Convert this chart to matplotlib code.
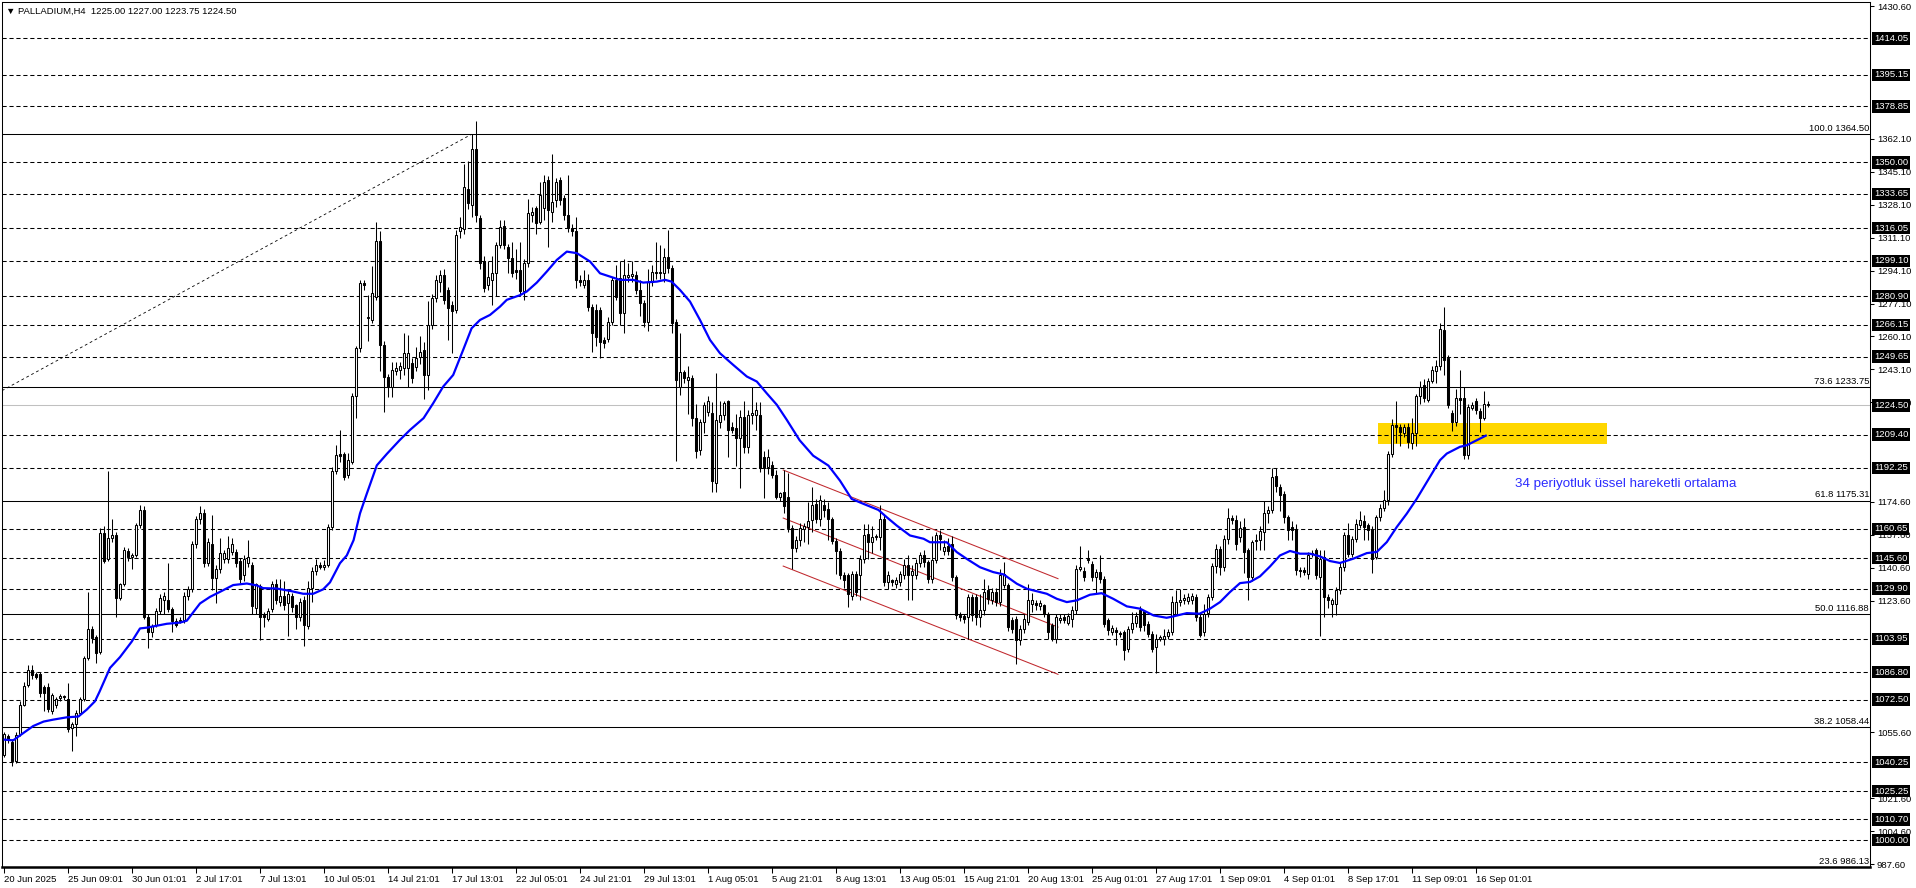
import numpy as np
import matplotlib
matplotlib.use("Agg")
import matplotlib.pyplot as plt
from matplotlib.patches import Rectangle

plt.rcParams['lines.scale_dashes'] = False
plt.rcParams['font.family'] = ['Liberation Sans', 'DejaVu Sans']

# --- H4 candles (bar 0 = 20 Jun 2025) ---
opens = [
    1044.0, 1053.9, 1050.9, 1041.0, 1054.9, 1069.7, 1080.0, 1087.6, 1085.6, 1085.6,
    1079.2, 1079.2, 1066.8, 1069.7, 1073.5, 1074.3, 1072.7, 1057.9, 1060.0, 1065.8,
    1072.7, 1093.9, 1109.0, 1105.0, 1097.0, 1158.8, 1145.0, 1155.9, 1157.8, 1125.2,
    1132.1, 1149.3, 1146.0, 1147.0, 1162.8, 1170.7, 1115.3, 1107.4, 1111.3, 1118.3,
    1124.2, 1124.2, 1119.2, 1113.3, 1113.0, 1113.7, 1126.2, 1129.5, 1152.9, 1165.8,
    1168.7, 1143.0, 1152.9, 1135.1, 1140.0, 1145.0, 1145.0, 1149.0, 1149.0, 1144.0,
    1137.0, 1143.0, 1142.0, 1120.0, 1131.0, 1116.3, 1114.3, 1119.2, 1132.1, 1123.2,
    1126.2, 1122.2, 1126.2, 1121.2, 1115.3, 1124.2, 1110.3, 1130.1, 1139.0, 1142.0,
    1141.0, 1142.0, 1161.8, 1190.5, 1199.4, 1199.4, 1188.5, 1195.5, 1229.1, 1253.9,
    1287.5, 1269.5, 1268.7, 1280.6, 1309.3, 1255.9, 1239.0, 1234.1, 1242.0, 1243.0,
    1243.6, 1243.7, 1246.3, 1244.5, 1249.7, 1253.2, 1240.2, 1266.1, 1279.8, 1288.4,
    1291.9, 1284.0, 1276.4, 1273.8, 1314.6, 1315.5, 1336.0, 1328.0, 1356.8, 1321.1,
    1299.3, 1286.7, 1289.3, 1292.7, 1307.4, 1317.2, 1306.5, 1300.5, 1294.4, 1294.4,
    1283.3, 1297.9, 1322.9, 1326.3, 1319.4, 1326.3, 1340.9, 1324.6, 1330.6, 1340.9,
    1331.5, 1322.9, 1316.0, 1314.3, 1289.3, 1286.7, 1289.3, 1275.5, 1273.8, 1273.8,
    1258.3, 1258.7, 1267.3, 1289.3, 1290.2, 1272.1, 1291.0, 1291.5, 1291.9, 1284.1,
    1277.2, 1267.8, 1288.4, 1293.4, 1292.7, 1292.7, 1301.3, 1295.3, 1267.8, 1234.2,
    1241.9, 1237.7, 1238.5, 1217.9, 1201.5, 1216.1, 1221.3, 1220.4, 1184.4, 1216.1,
    1219.6, 1226.5, 1213.5, 1212.7, 1207.6, 1218.7, 1203.2, 1219.6, 1219.6, 1219.6,
    1198.0, 1192.9, 1193.8, 1188.6, 1177.4, 1180.0, 1177.4, 1161.1, 1150.9, 1155.0,
    1160.7, 1161.6, 1165.4, 1173.6, 1165.9, 1173.3, 1171.0, 1165.9, 1154.7, 1149.5,
    1137.1, 1136.7, 1126.3, 1137.5, 1136.7, 1145.2, 1158.1, 1153.8, 1156.4, 1156.4,
    1165.9, 1133.2, 1134.1, 1132.3, 1133.2, 1136.7, 1141.8, 1136.7, 1136.7, 1143.0,
    1147.0, 1143.5, 1135.0, 1144.4, 1157.3, 1149.2, 1152.1, 1153.0, 1135.8, 1116.3,
    1115.5, 1115.2, 1125.5, 1125.5, 1115.2, 1118.6, 1128.9, 1123.8, 1128.0, 1122.9,
    1131.5, 1131.5, 1113.4, 1114.3, 1103.1, 1109.2, 1112.6, 1122.0, 1122.3, 1121.0,
    1121.2, 1116.9, 1110.9, 1104.0, 1113.5, 1115.2, 1112.3, 1114.3, 1118.6, 1140.1,
    1139.2, 1145.2, 1142.7, 1135.8, 1138.7, 1135.0, 1113.4, 1107.4, 1108.6, 1107.1,
    1107.4, 1098.8, 1109.2, 1112.0, 1118.6, 1118.3, 1111.7, 1106.6, 1099.7, 1104.0,
    1104.0, 1105.2, 1107.4, 1117.0, 1122.9, 1123.8, 1123.4, 1123.8, 1125.5, 1115.2,
    1107.4, 1117.2, 1125.5, 1141.3, 1150.5, 1141.0, 1155.7, 1166.4, 1165.1, 1156.5,
    1161.7, 1149.6, 1135.8, 1154.3, 1154.8, 1159.1, 1169.0, 1170.7, 1187.9, 1182.4,
    1178.9, 1166.9, 1161.7, 1160.8, 1139.6, 1139.6, 1137.6, 1148.3, 1149.6, 1135.8,
    1146.2, 1125.5, 1122.0, 1122.0, 1128.9, 1141.0, 1157.4, 1147.9, 1155.7, 1162.6,
    1164.6, 1162.5, 1160.8, 1146.2, 1166.9, 1171.7, 1175.8, 1199.3, 1214.3, 1213.4,
    1210.3, 1213.4, 1205.2, 1210.0, 1229.3, 1235.0, 1227.2, 1237.2, 1242.3, 1244.8,
    1263.4, 1249.1, 1220.3, 1216.0, 1228.1, 1228.1, 1198.8, 1223.2, 1226.8, 1221.7,
    1218.2, 1225.0,
]
highs = [
    1056.0, 1055.0, 1052.0, 1056.0, 1071.7, 1081.6, 1090.5, 1090.5, 1087.0, 1087.0,
    1080.0, 1081.0, 1076.0, 1074.0, 1075.5, 1075.0, 1081.0, 1061.0, 1067.0, 1074.0,
    1095.0, 1128.2, 1110.5, 1106.0, 1161.0, 1162.0, 1190.5, 1165.8, 1159.0, 1133.0,
    1151.5, 1151.0, 1148.0, 1164.0, 1173.0, 1172.5, 1117.0, 1111.5, 1120.0, 1127.0,
    1128.0, 1143.0, 1120.5, 1114.5, 1115.0, 1128.0, 1131.0, 1154.5, 1167.2, 1172.3,
    1171.0, 1156.0, 1167.7, 1142.0, 1155.9, 1150.0, 1157.0, 1156.0, 1150.5, 1145.5,
    1147.0, 1155.0, 1143.5, 1133.0, 1132.0, 1118.0, 1120.0, 1134.0, 1135.0, 1135.0,
    1134.0, 1129.0, 1127.5, 1122.0, 1125.0, 1126.0, 1134.0, 1141.0, 1145.0, 1143.5,
    1144.5, 1163.0, 1192.5, 1204.0, 1212.0, 1200.5, 1200.0, 1231.0, 1255.0, 1289.0,
    1289.0, 1281.6, 1296.5, 1319.2, 1314.3, 1257.8, 1240.5, 1246.8, 1246.8, 1247.0,
    1262.0, 1260.9, 1249.0, 1254.5, 1260.3, 1257.1, 1278.2, 1282.0, 1292.0, 1294.5,
    1295.0, 1285.5, 1278.5, 1315.0, 1322.0, 1349.0, 1350.5, 1364.5, 1371.2, 1323.0,
    1301.5, 1299.3, 1301.5, 1309.0, 1320.3, 1320.3, 1308.0, 1309.0, 1305.0, 1309.1,
    1300.0, 1331.0, 1327.0, 1327.5, 1340.0, 1343.5, 1343.0, 1354.5, 1342.0, 1342.5,
    1333.0, 1343.5, 1318.0, 1322.0, 1292.0, 1294.5, 1292.5, 1277.0, 1277.0, 1275.5,
    1260.0, 1270.0, 1291.0, 1297.0, 1299.0, 1300.0, 1298.0, 1299.0, 1294.0, 1289.0,
    1279.0, 1295.0, 1297.0, 1309.0, 1307.4, 1306.0, 1315.0, 1297.0, 1269.0, 1262.0,
    1243.0, 1245.0, 1240.0, 1225.0, 1217.5, 1226.0, 1229.5, 1226.0, 1241.0, 1227.0,
    1226.5, 1227.5, 1216.0, 1220.0, 1222.0, 1227.0, 1222.0, 1233.8, 1226.0, 1226.0,
    1201.0, 1202.0, 1196.0, 1191.0, 1180.0, 1191.0, 1189.5, 1162.5, 1157.0, 1164.0,
    1164.0, 1174.5, 1182.5, 1176.0, 1178.0, 1176.0, 1174.5, 1167.0, 1156.0, 1151.0,
    1138.5, 1138.0, 1139.0, 1139.0, 1147.0, 1163.0, 1163.0, 1162.0, 1158.0, 1173.0,
    1168.0, 1139.0, 1135.0, 1136.0, 1139.0, 1145.0, 1147.0, 1142.0, 1145.0, 1149.0,
    1150.0, 1144.5, 1157.0, 1159.0, 1160.0, 1155.0, 1156.0, 1157.0, 1137.0, 1118.0,
    1117.0, 1127.0, 1127.0, 1127.0, 1127.0, 1135.0, 1131.5, 1130.0, 1130.0, 1140.0,
    1143.5, 1133.0, 1115.0, 1115.5, 1111.0, 1117.0, 1132.0, 1127.5, 1124.0, 1124.0,
    1122.0, 1118.0, 1112.0, 1117.0, 1117.0, 1117.0, 1117.5, 1121.0, 1142.0, 1151.7,
    1141.0, 1150.0, 1144.0, 1140.0, 1147.0, 1136.5, 1114.5, 1111.0, 1110.0, 1108.0,
    1108.5, 1110.5, 1118.0, 1118.0, 1121.0, 1119.0, 1113.0, 1108.0, 1106.5, 1106.0,
    1109.0, 1109.0, 1126.0, 1129.0, 1129.8, 1127.0, 1127.5, 1127.5, 1127.0, 1117.0,
    1122.0, 1127.0, 1143.0, 1153.0, 1152.0, 1157.5, 1171.3, 1168.0, 1168.0, 1165.0,
    1166.5, 1151.0, 1155.0, 1158.3, 1162.0, 1175.0, 1172.5, 1192.0, 1192.0, 1184.0,
    1180.5, 1168.0, 1165.0, 1163.0, 1141.0, 1141.0, 1149.0, 1150.0, 1151.0, 1150.0,
    1149.6, 1127.0, 1125.0, 1130.5, 1143.0, 1159.0, 1164.0, 1157.0, 1166.0, 1170.0,
    1168.0, 1164.0, 1162.0, 1168.0, 1173.5, 1180.7, 1201.0, 1217.5, 1227.0, 1215.0,
    1215.0, 1215.5, 1218.0, 1230.5, 1237.3, 1238.0, 1238.5, 1245.0, 1247.9, 1266.9,
    1275.3, 1250.5, 1222.0, 1233.0, 1243.0, 1234.0, 1225.0, 1226.0, 1228.5, 1223.0,
    1231.7, 1227.0,
]
lows = [
    1043.0, 1050.0, 1038.5, 1040.0, 1054.0, 1069.0, 1079.0, 1083.0, 1083.0, 1074.0,
    1066.8, 1066.0, 1065.0, 1068.0, 1072.0, 1072.5, 1056.0, 1046.0, 1054.0, 1065.0,
    1072.0, 1093.0, 1102.0, 1091.5, 1096.0, 1143.0, 1144.0, 1154.0, 1115.3, 1124.0,
    1131.0, 1144.0, 1140.0, 1146.0, 1161.0, 1114.0, 1099.4, 1105.0, 1110.0, 1117.0,
    1117.0, 1118.0, 1107.4, 1110.0, 1112.0, 1112.0, 1124.0, 1128.0, 1151.0, 1163.0,
    1141.0, 1141.5, 1129.0, 1122.2, 1138.0, 1143.0, 1143.0, 1147.0, 1141.0, 1133.0,
    1134.0, 1141.0, 1117.0, 1117.0, 1103.4, 1110.0, 1113.0, 1118.0, 1122.0, 1121.0,
    1119.0, 1105.4, 1118.0, 1109.0, 1113.0, 1100.4, 1109.0, 1123.0, 1137.0, 1140.0,
    1139.5, 1141.0, 1160.0, 1189.0, 1195.0, 1186.0, 1187.0, 1194.0, 1218.2, 1252.0,
    1284.0, 1257.8, 1267.0, 1279.0, 1242.0, 1221.0, 1229.0, 1229.0, 1240.0, 1238.0,
    1240.0, 1234.0, 1236.0, 1242.0, 1246.0, 1228.0, 1232.6, 1264.0, 1278.0, 1283.0,
    1277.0, 1258.5, 1251.5, 1272.0, 1311.0, 1313.0, 1326.0, 1322.0, 1319.0, 1295.0,
    1283.0, 1284.0, 1276.4, 1281.0, 1306.0, 1305.0, 1293.0, 1291.0, 1290.0, 1281.0,
    1279.0, 1296.0, 1319.0, 1313.0, 1318.0, 1320.0, 1306.1, 1319.0, 1327.0, 1328.0,
    1320.0, 1314.0, 1312.0, 1285.0, 1286.0, 1285.0, 1273.0, 1252.3, 1254.9, 1248.8,
    1254.0, 1257.0, 1266.0, 1279.0, 1266.0, 1261.7, 1288.0, 1288.0, 1282.0, 1270.4,
    1265.0, 1263.0, 1286.0, 1290.0, 1290.0, 1288.0, 1293.0, 1262.0, 1196.0, 1230.0,
    1236.0, 1220.0, 1214.0, 1197.4, 1199.0, 1210.0, 1219.0, 1180.0, 1180.0, 1213.0,
    1217.0, 1198.0, 1210.0, 1193.0, 1182.0, 1200.0, 1200.0, 1215.0, 1212.0, 1190.0,
    1176.5, 1189.0, 1187.0, 1176.0, 1175.0, 1169.0, 1159.0, 1139.9, 1149.0, 1152.0,
    1154.0, 1153.0, 1159.0, 1164.0, 1162.0, 1167.0, 1155.0, 1153.0, 1137.6, 1135.0,
    1130.0, 1120.4, 1124.0, 1126.0, 1124.0, 1143.0, 1145.0, 1148.0, 1155.0, 1150.0,
    1131.0, 1129.8, 1131.0, 1130.0, 1131.0, 1135.0, 1124.0, 1124.0, 1135.0, 1141.0,
    1141.0, 1133.0, 1133.0, 1143.0, 1150.0, 1147.0, 1147.0, 1134.0, 1114.0, 1113.0,
    1112.0, 1103.8, 1113.0, 1111.0, 1110.0, 1116.0, 1122.0, 1122.0, 1121.0, 1121.0,
    1130.0, 1108.0, 1107.0, 1090.7, 1101.0, 1107.0, 1111.0, 1118.0, 1119.0, 1119.0,
    1115.0, 1104.0, 1103.0, 1102.0, 1112.0, 1112.0, 1111.0, 1110.0, 1117.0, 1139.0,
    1134.0, 1143.0, 1134.0, 1127.5, 1133.0, 1110.0, 1106.0, 1106.0, 1101.0, 1105.0,
    1092.8, 1097.0, 1107.0, 1110.0, 1108.0, 1108.0, 1105.0, 1097.0, 1086.5, 1103.0,
    1101.0, 1104.0, 1106.0, 1116.0, 1121.0, 1122.0, 1122.0, 1122.0, 1113.0, 1105.0,
    1105.5, 1115.0, 1124.0, 1138.0, 1137.0, 1139.0, 1153.0, 1163.0, 1150.0, 1154.0,
    1138.0, 1124.2, 1134.0, 1150.0, 1150.0, 1150.0, 1164.0, 1169.0, 1180.0, 1170.0,
    1164.0, 1155.0, 1155.0, 1137.0, 1136.0, 1137.0, 1135.0, 1146.0, 1135.0, 1105.5,
    1115.0, 1120.0, 1115.0, 1116.0, 1127.0, 1139.0, 1146.0, 1146.0, 1154.0, 1161.0,
    1155.0, 1155.0, 1138.0, 1145.0, 1165.0, 1170.0, 1173.0, 1198.0, 1205.0, 1203.5,
    1208.0, 1202.5, 1202.0, 1203.5, 1225.0, 1226.0, 1226.0, 1236.0, 1236.0, 1243.0,
    1240.0, 1223.0, 1211.3, 1214.0, 1220.0, 1197.0, 1197.0, 1222.0, 1220.0, 1210.5,
    1217.0, 1223.75,
]
closes = [
    1054.9, 1051.7, 1041.0, 1054.5, 1069.7, 1079.6, 1088.0, 1085.2, 1084.2, 1075.7,
    1075.7, 1067.8, 1074.7, 1072.7, 1074.3, 1073.7, 1057.5, 1060.2, 1065.8, 1072.7,
    1093.9, 1109.0, 1104.4, 1096.5, 1158.8, 1144.0, 1155.9, 1157.8, 1125.2, 1132.1,
    1149.9, 1146.0, 1147.0, 1162.8, 1170.7, 1115.3, 1107.4, 1110.3, 1118.3, 1125.2,
    1126.2, 1119.2, 1113.3, 1111.3, 1113.7, 1126.2, 1129.5, 1152.9, 1165.8, 1168.7,
    1143.0, 1153.9, 1135.1, 1140.0, 1148.0, 1148.0, 1151.0, 1153.0, 1143.0, 1135.0,
    1145.0, 1146.0, 1121.0, 1132.0, 1115.3, 1115.3, 1118.3, 1132.1, 1124.2, 1126.2,
    1121.2, 1127.2, 1120.2, 1115.3, 1123.2, 1111.3, 1130.1, 1139.0, 1142.0, 1141.0,
    1141.8, 1161.8, 1190.5, 1198.8, 1198.4, 1187.5, 1196.5, 1229.1, 1253.9, 1287.5,
    1286.5, 1270.1, 1282.6, 1309.3, 1255.9, 1239.0, 1234.1, 1243.0, 1244.0, 1245.0,
    1251.7, 1251.4, 1238.5, 1248.8, 1251.8, 1240.2, 1266.1, 1279.8, 1289.3, 1291.9,
    1279.0, 1274.7, 1273.0, 1312.5, 1316.5, 1337.5, 1328.9, 1356.8, 1322.9, 1297.9,
    1285.0, 1291.0, 1292.7, 1307.4, 1316.8, 1307.4, 1300.5, 1292.7, 1293.6, 1283.3,
    1297.9, 1323.7, 1324.6, 1318.6, 1333.2, 1340.1, 1325.4, 1329.7, 1340.1, 1330.6,
    1322.9, 1316.0, 1314.3, 1289.3, 1288.4, 1289.3, 1275.5, 1261.7, 1260.0, 1257.4,
    1256.6, 1267.3, 1289.3, 1280.7, 1272.1, 1291.9, 1291.9, 1292.2, 1284.1, 1277.2,
    1267.8, 1288.4, 1293.6, 1292.8, 1293.2, 1301.3, 1295.3, 1267.0, 1237.7, 1241.9,
    1238.5, 1239.4, 1217.9, 1200.7, 1216.1, 1224.7, 1226.5, 1185.2, 1217.0, 1219.6,
    1225.6, 1211.8, 1211.8, 1207.6, 1218.7, 1203.2, 1219.6, 1220.4, 1222.2, 1192.0,
    1192.0, 1198.0, 1188.6, 1177.4, 1179.1, 1172.3, 1161.1, 1150.7, 1155.0, 1161.0,
    1162.4, 1165.0, 1173.3, 1165.9, 1175.8, 1170.5, 1165.9, 1154.7, 1149.5, 1136.7,
    1134.1, 1127.2, 1137.5, 1128.0, 1145.2, 1157.3, 1153.8, 1156.4, 1156.9, 1165.9,
    1133.2, 1137.1, 1133.2, 1134.1, 1137.5, 1141.8, 1136.7, 1139.2, 1143.0, 1147.0,
    1143.5, 1135.0, 1144.4, 1157.3, 1155.5, 1151.6, 1149.5, 1135.8, 1116.0, 1115.2,
    1114.3, 1125.5, 1116.0, 1115.2, 1118.6, 1128.0, 1124.6, 1128.0, 1122.9, 1136.7,
    1137.5, 1110.0, 1109.2, 1103.1, 1109.2, 1114.3, 1123.8, 1123.8, 1121.6, 1122.5,
    1116.9, 1107.4, 1104.0, 1115.2, 1114.9, 1113.7, 1115.5, 1118.6, 1140.1, 1141.0,
    1135.8, 1144.5, 1135.8, 1138.4, 1135.0, 1111.7, 1108.3, 1109.5, 1107.4, 1106.6,
    1098.0, 1109.2, 1112.0, 1115.5, 1110.0, 1110.9, 1106.6, 1098.8, 1104.0, 1104.9,
    1105.2, 1107.4, 1122.9, 1122.9, 1123.8, 1125.1, 1125.5, 1125.8, 1115.2, 1106.0,
    1116.9, 1125.5, 1141.3, 1150.5, 1141.0, 1155.7, 1166.4, 1165.1, 1153.0, 1161.3,
    1148.8, 1135.8, 1153.9, 1154.8, 1159.6, 1169.0, 1170.7, 1187.6, 1182.7, 1178.1,
    1166.9, 1160.0, 1160.0, 1139.3, 1138.9, 1138.4, 1147.0, 1147.5, 1136.7, 1145.3,
    1125.5, 1123.8, 1123.8, 1128.9, 1141.0, 1157.4, 1147.9, 1155.7, 1163.4, 1165.5,
    1161.7, 1160.0, 1145.3, 1166.9, 1171.7, 1175.8, 1199.3, 1214.3, 1213.4, 1210.8,
    1213.4, 1205.7, 1210.3, 1229.3, 1233.8, 1228.1, 1237.2, 1242.7, 1244.8, 1263.8,
    1247.9, 1224.6, 1216.0, 1228.1, 1227.2, 1198.8, 1223.7, 1224.9, 1222.0, 1218.2,
    1225.1, 1224.5,
]

# 34 EMA (bar position, value)
ema_bar = [0, 2.4, 4, 7.4, 10, 12.4, 15.8, 18.7, 20.8, 22.85, 24, 26.6, 29.1, 32, 34.1,
           35.8, 38.3, 40.8, 44.1, 45.8, 49.1, 51.6, 54.1, 57.4, 60.8, 63.3, 64.9, 68.3,
           71.6, 74.9, 77.4, 79.9, 81.6, 84.1, 85.8, 87.5, 89.1, 90.75, 93.3, 95.8, 99,
           101.6, 105, 107.4, 109.9, 112.4, 114.9, 117, 119.1, 121.6, 124.1, 125.8, 129.1,
           130.8, 133.3, 135.8, 138.3, 140.8, 143.3, 146.6, 149.1, 151.6, 154.1, 157.4,
           159.9, 163.3, 165.4, 167, 169.1, 171.6, 174.1, 176.6, 179.1, 182.4, 185.8,
           188.3, 190.75, 193.3, 195.8, 199, 202.4, 206.2, 209.1, 212, 215, 218.7, 220.8,
           223.3, 226.6, 230, 231.6, 235.8, 238.3, 240.8, 244.1, 247.4, 250, 253.3, 255.8,
           260.8, 263.3, 265.8, 268.3, 271.6, 274.5, 277.4, 280.8, 284.1, 287.5, 290.75,
           292.4, 295.8, 299, 301.6, 304.1, 306.6, 309.1, 311.6, 314.1, 316.6, 319.1,
           321.6, 324.1, 326.6, 329.1, 331.6, 334.1, 337.4, 340.8, 343.3, 345.8, 348.3,
           350.8, 353.3, 356.6, 359.1, 360.8, 364.1, 365.8, 368.3, 370.8]
ema_val = [1051.9, 1051.5, 1053.9, 1058.9, 1061.2, 1062.2, 1063.4, 1063.8, 1067.4, 1071.7,
           1076.7, 1088.9, 1094.5, 1102.4, 1109.3, 1109.7, 1110.7, 1111.7, 1112.3, 1113.3,
           1122.2, 1125.6, 1128.2, 1131.7, 1132.5, 1131.5, 1130.1, 1129.9, 1128.7, 1127.2,
           1127.2, 1129.5, 1133.1, 1143.0, 1147.0, 1154.9, 1168.7, 1178.6, 1193.5, 1199.4,
           1206.5, 1211.8, 1217.9, 1225.6, 1234.2, 1240.2, 1253.2, 1264.3, 1268.6, 1271.2,
           1275.5, 1279.0, 1281.4, 1283.3, 1287.9, 1293.6, 1299.6, 1303.9, 1303.1, 1298.8,
           1292.7, 1291.0, 1289.3, 1289.3, 1287.9, 1288.4, 1289.3, 1288.4, 1284.1, 1278.1,
           1268.6, 1258.3, 1251.4, 1245.4, 1239.4, 1236.8, 1230.8, 1224.8, 1217.0, 1206.5,
           1198.5, 1193.4, 1185.6, 1176.2, 1173.6, 1170.5, 1166.7, 1162.4, 1157.3, 1155.6,
           1153.8, 1153.8, 1148.7, 1145.2, 1140.9, 1138.4, 1137.2, 1132.4, 1129.8, 1127.2,
           1124.6, 1122.9, 1123.8, 1126.7, 1127.5, 1124.6, 1120.7, 1119.5, 1116.0, 1114.8,
           1115.5, 1117.2, 1116.9, 1119.5, 1122.9, 1128.1, 1132.7, 1133.3, 1136.2, 1141.3,
           1147.0, 1149.3, 1147.9, 1147.9, 1146.5, 1144.1, 1143.1, 1145.3, 1148.2, 1148.8,
           1153.9, 1161.7, 1168.6, 1176.3, 1187.6, 1196.2, 1199.6, 1203.1, 1203.9, 1206.5,
           1209.1]

dashed_levels = [1414.05, 1395.15, 1378.85, 1350.00, 1333.65, 1316.05, 1299.10, 1280.90,
                 1266.15, 1249.65, 1209.40, 1192.25, 1160.65, 1145.60, 1129.90, 1103.95,
                 1086.80, 1072.50, 1040.25, 1025.25, 1010.70, 1000.00]
fib_levels = [1364.50, 1233.75, 1175.31, 1116.88, 1058.44, 986.13]
fib_names = ["100.0", "73.6", "61.8", "50.0", "38.2", "23.6"]
last_price = 1224.50
price_ticks = [1430.60, 1362.10, 1345.10, 1328.10, 1311.10, 1294.10, 1277.10, 1260.10,
               1243.10, 1226.10, 1174.60, 1157.60, 1140.60, 1123.60, 1055.60, 1021.60,
               1004.60, 987.60]
time_labels = ["20 Jun 2025", "25 Jun 09:01", "30 Jun 01:01", "2 Jul 17:01", "7 Jul 13:01",
               "10 Jul 05:01", "14 Jul 21:01", "17 Jul 13:01", "22 Jul 05:01", "24 Jul 21:01",
               "29 Jul 13:01", "1 Aug 05:01", "5 Aug 21:01", "8 Aug 13:01", "13 Aug 05:01",
               "15 Aug 21:01", "20 Aug 13:01", "25 Aug 01:01", "27 Aug 17:01", "1 Sep 09:01",
               "4 Sep 01:01", "8 Sep 17:01", "11 Sep 09:01", "16 Sep 01:01"]
bars_per_label = 16

# drawings
channel_x = [194.9, 263.6]
channel_upper = [1191.1, 1135.0]
channel_mid = [1166.3, 1110.0]
channel_lower = [1141.5, 1085.6]
fib_trend_x = [-0.4, 117.0]
fib_trend_y = [1232.1, 1364.5]
zone_x = [343.6, 400.9]
zone_y = [1204.5, 1215.3]

W, H = 1916, 888
fig = plt.figure(figsize=(W / 100, H / 100), dpi=100)
ax = fig.add_axes([2 / W, (H - 867) / H, (1870 - 2) / W, (867 - 2) / H])
ax.set_xlim(-0.4, 466.6)
ax.set_ylim(986.1, 1432.8)

o = np.array(opens); h = np.array(highs); l = np.array(lows); c = np.array(closes)
x = np.arange(len(o))
up = c >= o

# support zone
ax.add_patch(Rectangle((zone_x[0], zone_y[0]), zone_x[1] - zone_x[0], zone_y[1] - zone_y[0],
                       facecolor='#ffd700', edgecolor='none', zorder=1))

for v in dashed_levels:
    ax.axhline(v, color='black', lw=0.75, ls=(0, (3, 2)), zorder=2)
ax.axhline(last_price, color='#c0c0c0', lw=0.75, zorder=2)
trans = ax.get_yaxis_transform()
for v, name in zip(fib_levels, fib_names):
    ax.axhline(v, color='black', lw=0.75, zorder=2)
    ax.text(0.9995, v + 0.6, f"{name} {v:.2f}", transform=trans, ha='right', va='bottom',
            fontsize=6.8, color='black', zorder=6)

ax.plot(fib_trend_x, fib_trend_y, color='black', lw=0.6, ls=(0, (2, 2)), zorder=2)
for yy in (channel_upper, channel_mid, channel_lower):
    ax.plot(channel_x, yy, color='#c0282d', lw=0.75, zorder=2)

# candles
ax.vlines(x, l, h, color='black', lw=0.75, zorder=3)
ax.bar(x[up], (c - o)[up], bottom=o[up], width=0.5, facecolor='white',
       edgecolor='black', linewidth=0.75, zorder=4)
ax.bar(x[~up], (o - c)[~up], bottom=c[~up], width=0.5, facecolor='black',
       edgecolor='black', linewidth=0.75, zorder=4)

ax.plot(ema_bar, ema_val, color='#0000ff', lw=1.6, zorder=5, solid_capstyle='butt')

ax.text(377.9, 1183.8, "34 periyotluk üssel hareketli ortalama", color='#2b2bff',
        fontsize=9.6, ha='left', va='center', zorder=6)

ax.text(0.002, 0.9895, "\u25bc PALLADIUM,H4  1225.00 1227.00 1223.75 1224.50",
        transform=ax.transAxes, ha='left', va='center', fontsize=6.8, color='black')

# price axis
ax.yaxis.tick_right()
ax.set_yticks(price_ticks)
ax.set_yticklabels([f"{v:.2f}" for v in price_ticks])
ax.tick_params(axis='y', direction='out', length=3, width=0.75, pad=2, labelsize=6.8)
for v in dashed_levels + [last_price]:
    ax.text(1.0022, v, f"{v:.2f}", transform=trans, ha='left', va='center', fontsize=6.8,
            color='white', clip_on=False, zorder=10,
            bbox=dict(boxstyle='square,pad=0.18', facecolor='black', edgecolor='none'))

# time axis
xt = [i * bars_per_label for i in range(len(time_labels))]
ax.set_xticks(xt)
ax.set_xticklabels(time_labels, ha='left')
ax.tick_params(axis='x', direction='out', length=4, width=0.75, pad=1.5, labelsize=6.8)

for s in ax.spines.values():
    s.set_linewidth(0.75)
ax.spines['bottom'].set_linewidth(1.8)

fig.savefig("out.png", dpi=100)
